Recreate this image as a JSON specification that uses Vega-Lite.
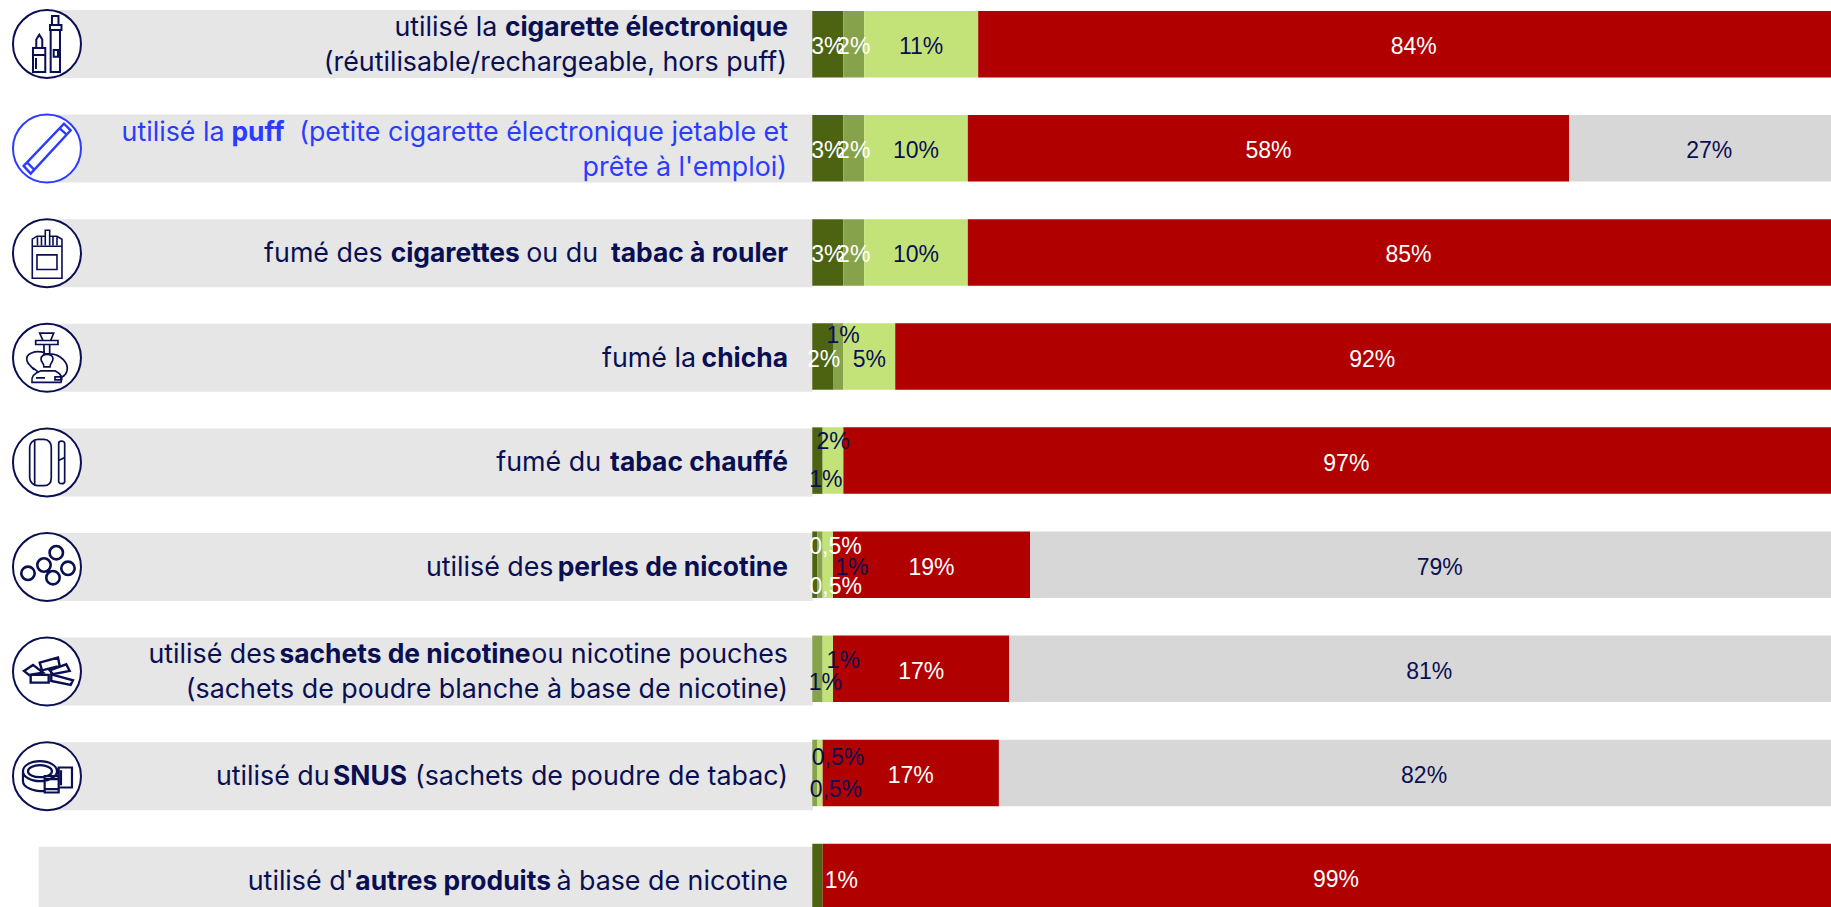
{
"$schema":"https://vega.github.io/schema/vega-lite/v6.json",
"width":1831,"height":907,"autosize":"none","padding":0,"background":"#ffffff",
"config":{"view":{"stroke":null},"style":{
 "v":{"font":"Liberation Sans","fontSize":23,"align":"center","baseline":"middle"},
 "r":{"font":"Inter","fontSize":26.8,"fontWeight":400,"align":"right","baseline":"middle","color":"#0a0f52"},
 "b":{"font":"Inter","fontSize":26.4,"fontWeight":700,"align":"right","baseline":"middle","color":"#0a0f52"},
 "rp":{"font":"Inter","fontSize":26.8,"fontWeight":400,"align":"right","baseline":"middle","color":"#2b3cff"},
 "bp":{"font":"Inter","fontSize":26.4,"fontWeight":700,"align":"right","baseline":"middle","color":"#2b3cff"}
}},
"datasets":{
"items":[{"item":"ecig","icon":"vape"},{"item":"puff","icon":"puff"},{"item":"cig","icon":"pack"},{"item":"chicha","icon":"shisha"},{"item":"chauffe","icon":"heat"},{"item":"perles","icon":"pearls"},{"item":"sachets","icon":"pouches"},{"item":"snus","icon":"snus"},{"item":"autres","icon":"none"}],
"runs":[
{"id":"r1a","item":"ecig","text":"utilisé la"},{"id":"r1b","item":"ecig","text":"cigarette électronique"},{"id":"r1c","item":"ecig","text":"(réutilisable/rechargeable, hors puff)"},
{"id":"r2a","item":"puff","text":"utilisé la"},{"id":"r2b","item":"puff","text":"puff"},{"id":"r2c","item":"puff","text":"(petite cigarette électronique jetable et"},{"id":"r2d","item":"puff","text":"prête à l'emploi)"},
{"id":"r3a","item":"cig","text":"fumé des"},{"id":"r3b","item":"cig","text":"cigarettes"},{"id":"r3c","item":"cig","text":"ou du"},{"id":"r3d","item":"cig","text":"tabac à rouler"},
{"id":"r4a","item":"chicha","text":"fumé la"},{"id":"r4b","item":"chicha","text":"chicha"},
{"id":"r5a","item":"chauffe","text":"fumé du"},{"id":"r5b","item":"chauffe","text":"tabac chauffé"},
{"id":"r6a","item":"perles","text":"utilisé des"},{"id":"r6b","item":"perles","text":"perles de nicotine"},
{"id":"r7a","item":"sachets","text":"utilisé des"},{"id":"r7b","item":"sachets","text":"sachets de nicotine"},{"id":"r7c","item":"sachets","text":"ou nicotine pouches"},{"id":"r7d","item":"sachets","text":"(sachets de poudre blanche à base de nicotine)"},
{"id":"r8a","item":"snus","text":"utilisé du"},{"id":"r8b","item":"snus","text":"SNUS"},{"id":"r8c","item":"snus","text":"(sachets de poudre de tabac)"},
{"id":"r9a","item":"autres","text":"utilisé d'"},{"id":"r9b","item":"autres","text":"autres produits"},{"id":"r9c","item":"autres","text":"à base de nicotine"}
],
"bars":[
{"item":"ecig","cat":"dark","value":3,"label":"3%"},{"item":"ecig","cat":"mid","value":2,"label":"2%"},{"item":"ecig","cat":"light","value":11,"label":"11%"},{"item":"ecig","cat":"red","value":84,"label":"84%"},
{"item":"puff","cat":"dark","value":3,"label":"3%"},{"item":"puff","cat":"mid","value":2,"label":"2%"},{"item":"puff","cat":"light","value":10,"label":"10%"},{"item":"puff","cat":"red","value":58,"label":"58%"},{"item":"puff","cat":"gray","value":27,"label":"27%"},
{"item":"cig","cat":"dark","value":3,"label":"3%"},{"item":"cig","cat":"mid","value":2,"label":"2%"},{"item":"cig","cat":"light","value":10,"label":"10%"},{"item":"cig","cat":"red","value":85,"label":"85%"},
{"item":"chicha","cat":"dark","value":2,"label":"2%"},{"item":"chicha","cat":"mid","value":1,"label":"1%"},{"item":"chicha","cat":"light","value":5,"label":"5%"},{"item":"chicha","cat":"red","value":92,"label":"92%"},
{"item":"chauffe","cat":"dark","value":1,"label":"1%"},{"item":"chauffe","cat":"light","value":2,"label":"2%"},{"item":"chauffe","cat":"red","value":97,"label":"97%"},
{"item":"perles","cat":"dark","value":0.5,"label":"0,5%"},{"item":"perles","cat":"mid","value":0.5,"label":"0,5%"},{"item":"perles","cat":"light","value":1,"label":"1%"},{"item":"perles","cat":"red","value":19,"label":"19%"},{"item":"perles","cat":"gray","value":79,"label":"79%"},
{"item":"sachets","cat":"mid","value":1,"label":"1%"},{"item":"sachets","cat":"light","value":1,"label":"1%"},{"item":"sachets","cat":"red","value":17,"label":"17%"},{"item":"sachets","cat":"gray","value":81,"label":"81%"},
{"item":"snus","cat":"mid","value":0.5,"label":"0,5%"},{"item":"snus","cat":"light","value":0.5,"label":"0,5%"},{"item":"snus","cat":"red","value":17,"label":"17%"},{"item":"snus","cat":"gray","value":82,"label":"82%"},
{"item":"autres","cat":"dark","value":1,"label":"1%"},{"item":"autres","cat":"red","value":99,"label":"99%"}
]},
"resolve":{"scale":{"y":"independent"}},
"layer":[
{"encoding":{"y":{"field":"item","type":"nominal","axis":null,"scale":{"domain":["ecig","puff","cig","chicha","chauffe","perles","sachets","snus","autres"],"range":[-8.3,933.1],"paddingInner":0,"paddingOuter":0}}},
 "layer":[
 {"data":{"name":"items"},"mark":{"type":"bar","size":68,"color":"#e6e6e6"},"encoding":{"x":{"datum":-74.6,"type":"quantitative","axis":null,"scale":{"domain":[-78.33,98.24],"nice":false,"zero":false}},"x2":{"datum":0.05}}},
 {"data":{"name":"items"},
  "transform":[{"filter":"datum.icon!='none'"}],
  "encoding":{"x":{"datum":-73.8,"type":"quantitative","axis":null,"scale":{"domain":[-78.33,98.24],"nice":false,"zero":false}}},
  "layer":[
  {"transform":[{"filter":"datum.icon!='puff'"}],"mark":{"type":"point","shape":"circle","size":4624,"fill":"#ffffff","stroke":"#0a0f52","strokeWidth":2,"opacity":1}},
  {"transform":[{"filter":"datum.icon=='puff'"}],"mark":{"type":"point","shape":"circle","size":4624,"fill":"#ffffff","stroke":"#2b3cff","strokeWidth":2,"opacity":1}},
  {"transform":[{"filter":"datum.icon=='vape'"}],"mark":{"type":"point","size":4,"filled":false,"stroke":"#0a0f52","strokeWidth":2,"opacity":1,"shape":"M5,-28H11.5V-19H5ZM3,-19H14.5V-14H3ZM3.7,-14H13V28H3.7ZM6.7,6H11V12.7H6.7ZM-10.7,4V-4.5L-7.7,-9.3L-4.7,-4.5V4ZM-14,4H-1.7V28H-14ZM-14,11H-1.7M-11,14V25"}},
  {"transform":[{"filter":"datum.icon=='puff'"}],"mark":{"type":"point","size":4,"filled":false,"stroke":"#2b3cff","strokeWidth":2.4,"opacity":1,"shape":"M-23.3,17.3L17,-25L23.7,-18.3L-16.3,25ZM12.7,-20.3L19.7,-14M-19.7,14L-13,20.7"}},
  {"transform":[{"filter":"datum.icon=='pack'"}],"mark":{"type":"point","size":4,"filled":false,"stroke":"#0a0f52","strokeWidth":1.6,"opacity":1,"shape":"M-14.7,-7H15V25H-14.7ZM-10,1.7H10V16.3H-10ZM-14.7,-7V-14L-10,-17H-2M3,-17H10L15,-14V-7M-1.7,-8V-23H2.7V-8M-9.5,-16V-8M-5.5,-17V-8M6,-17V-8M10,-16V-8"}},
  {"transform":[{"filter":"datum.icon=='shisha'"}],"mark":{"type":"point","size":4,"filled":false,"stroke":"#0a0f52","strokeWidth":1.7,"opacity":1,"shape":"M-7.3,-24.7H6.7L3.7,-17.3H-4ZM-11.3,-17.3H11V-13.3H-11.3ZM-3,-13.3H2.7V-4H-3ZM-6,1C-6,-5 6,-5 6,1C6,5 3,5 3,9H-3C-3,5 -6,5 -6,1ZM-15,24.5H14C16,20 14,16 8,13H-6C-12,15 -16,19 -15,24.5ZM-11,20H-2M8,19H14V22H8ZM-2,-5C-12,-8 -22,-4 -20,3C-19,7 -15,9 -13,12M-14,10L-9,14M3,-4C14,-4 22,6 20,13C19,18 15,19 14,20"}},
  {"transform":[{"filter":"datum.icon=='heat'"}],"mark":{"type":"point","size":4,"filled":false,"stroke":"#0a0f52","strokeWidth":1.7,"opacity":1,"shape":"M-9,-23H-3C2,-23 4.3,-19 4.3,-15V15C4.3,20 2,23.3 -3,23.3H-9C-14,23.3 -17.3,19 -17.3,15V-15C-17.3,-19 -14,-23 -9,-23ZM-12.3,-22V22M11.7,-19C11.7,-22 17.7,-22 17.7,-19V19C17.7,22 11.7,22 11.7,19ZM11.7,-2L17.7,-5"}},
  {"transform":[{"filter":"datum.icon=='pearls'"}],"mark":{"type":"point","size":4,"filled":false,"stroke":"#0a0f52","strokeWidth":2.6,"opacity":1,"shape":"M2.6,-14.3A6.7,6.7 0 1 0 16,-14.3A6.7,6.7 0 1 0 2.6,-14.3ZM-9.7,-2A6.7,6.7 0 1 0 3.7,-2A6.7,6.7 0 1 0 -9.7,-2ZM-25.7,6.3A6.7,6.7 0 1 0 -12.3,6.3A6.7,6.7 0 1 0 -25.7,6.3ZM14.3,1.3A6.7,6.7 0 1 0 27.7,1.3A6.7,6.7 0 1 0 14.3,1.3ZM-0.7,10.7A6.7,6.7 0 1 0 12.7,10.7A6.7,6.7 0 1 0 -0.7,10.7Z"}},
  {"transform":[{"filter":"datum.icon=='pouches'"}],"mark":{"type":"point","size":4,"filled":false,"stroke":"#0a0f52","strokeWidth":2.4,"opacity":1,"shape":"M-7.3,-9L11,-14L12.7,-5.7L-5,-1.3ZM-23,-0.7L-14,-6.7L-4,1L-18,3.3ZM-16.3,3.3H1.7V11H-16.3ZM2.7,-1.3L19.3,-7.3L22.7,-0.7L6,2.7ZM4.3,2.7L26,8.7L23.7,13.3L4.3,9.3Z"}},
  {"transform":[{"filter":"datum.icon=='snus'"}],"mark":{"type":"point","size":4,"filled":false,"stroke":"#0a0f52","strokeWidth":2.2,"opacity":1,"shape":"M-24,-5A17,10 0 1 0 10,-5A17,10 0 1 0 -24,-5ZM-19,-5A12,6 0 1 0 5,-5A12,6 0 1 0 -19,-5ZM-24,-5V5C-24,11 -14,15 -3,15M-2.3,0H11.7V16.3H-2.3ZM-2.3,3H11.7M-2.3,13H11.7M11.7,-8.7H25V11.3H11.7ZM14,-6V9"}}
  ]},
 {"data":{"name":"runs"},
  "encoding":{"x":{"datum":-2.34,"type":"quantitative","axis":null,"scale":{"domain":[-78.33,98.24],"nice":false,"zero":false}},"text":{"field":"text"}},
  "layer":[
  {"transform":[{"filter":"datum.id=='r1a'"}],"mark":{"type":"text","style":"r","dx":-290.6,"dy":-16}},
  {"transform":[{"filter":"datum.id=='r1b'"}],"mark":{"type":"text","style":"b","dx":0,"dy":-16}},
  {"transform":[{"filter":"datum.id=='r1c'"}],"mark":{"type":"text","style":"r","dx":-1,"dy":19}},
  {"transform":[{"filter":"datum.id=='r2a'"}],"mark":{"type":"text","style":"rp","dx":-563.5,"dy":-16}},
  {"transform":[{"filter":"datum.id=='r2b'"}],"mark":{"type":"text","style":"bp","dx":-503.6,"dy":-16}},
  {"transform":[{"filter":"datum.id=='r2c'"}],"mark":{"type":"text","style":"rp","dx":0,"dy":-16}},
  {"transform":[{"filter":"datum.id=='r2d'"}],"mark":{"type":"text","style":"rp","dx":-1,"dy":19}},
  {"transform":[{"filter":"datum.id=='r3a'"}],"mark":{"type":"text","style":"r","dx":-405.3,"dy":1}},
  {"transform":[{"filter":"datum.id=='r3b'"}],"mark":{"type":"text","style":"b","dx":-268.2,"dy":1}},
  {"transform":[{"filter":"datum.id=='r3c'"}],"mark":{"type":"text","style":"r","dx":-190,"dy":1}},
  {"transform":[{"filter":"datum.id=='r3d'"}],"mark":{"type":"text","style":"b","dx":0,"dy":1}},
  {"transform":[{"filter":"datum.id=='r4a'"}],"mark":{"type":"text","style":"r","dx":-92,"dy":1}},
  {"transform":[{"filter":"datum.id=='r4b'"}],"mark":{"type":"text","style":"b","dx":0,"dy":1}},
  {"transform":[{"filter":"datum.id=='r5a'"}],"mark":{"type":"text","style":"r","dx":-187,"dy":1}},
  {"transform":[{"filter":"datum.id=='r5b'"}],"mark":{"type":"text","style":"b","dx":0,"dy":1}},
  {"transform":[{"filter":"datum.id=='r6a'"}],"mark":{"type":"text","style":"r","dx":-234.5,"dy":1}},
  {"transform":[{"filter":"datum.id=='r6b'"}],"mark":{"type":"text","style":"b","dx":0,"dy":1}},
  {"transform":[{"filter":"datum.id=='r7a'"}],"mark":{"type":"text","style":"r","dx":-512,"dy":-17}},
  {"transform":[{"filter":"datum.id=='r7b'"}],"mark":{"type":"text","style":"b","dx":-257.4,"dy":-17}},
  {"transform":[{"filter":"datum.id=='r7c'"}],"mark":{"type":"text","style":"r","dx":0,"dy":-17}},
  {"transform":[{"filter":"datum.id=='r7d'"}],"mark":{"type":"text","style":"r","dx":0,"dy":18}},
  {"transform":[{"filter":"datum.id=='r8a'"}],"mark":{"type":"text","style":"r","dx":-458.4,"dy":1}},
  {"transform":[{"filter":"datum.id=='r8b'"}],"mark":{"type":"text","style":"b","dx":-381,"dy":1}},
  {"transform":[{"filter":"datum.id=='r8c'"}],"mark":{"type":"text","style":"r","dx":0,"dy":1}},
  {"transform":[{"filter":"datum.id=='r9a'"}],"mark":{"type":"text","style":"r","dx":-434.4,"dy":1}},
  {"transform":[{"filter":"datum.id=='r9b'"}],"mark":{"type":"text","style":"b","dx":-237,"dy":1}},
  {"transform":[{"filter":"datum.id=='r9c'"}],"mark":{"type":"text","style":"r","dx":0,"dy":1}}
  ]}
 ]},
{"data":{"name":"bars"},
 "transform":[
  {"calculate":"indexof(['dark','mid','light','red','gray'],datum.cat)","as":"order"},
  {"stack":"value","groupby":["item"],"sort":[{"field":"order","order":"ascending"}],"as":["x0","x1"]},
  {"calculate":"(datum.x0+datum.x1)/2","as":"mid"},
  {"calculate":"datum.item+'/'+datum.cat","as":"id"}
 ],
 "encoding":{"y":{"field":"item","type":"nominal","axis":null,"scale":{"domain":["ecig","puff","cig","chicha","chauffe","perles","sachets","snus","autres"],"range":[-7.85,929.05],"paddingInner":0,"paddingOuter":0}}},
 "layer":[
 {"mark":{"type":"bar","size":66.5,"clip":true},"encoding":{"x":{"field":"x0","type":"quantitative","axis":null,"scale":{"domain":[-78.33,98.24],"nice":false,"zero":false}},"x2":{"field":"x1"},"color":{"field":"cat","type":"nominal","legend":null,"scale":{"domain":["dark","mid","light","red","gray"],"range":["#4c6412","#86a34b","#c3e379","#b00000","#d7d7d7"]}}}},
 {"encoding":{"x":{"field":"mid","type":"quantitative","axis":null,"scale":{"domain":[-78.33,98.24],"nice":false,"zero":false}},"text":{"field":"label"}},
  "layer":[
  {"transform":[{"filter":"indexof(['chicha/dark','chicha/mid','chauffe/light','chauffe/dark','perles/dark','perles/mid','perles/light','sachets/light','sachets/mid','snus/light','snus/mid','autres/dark'],datum.id)<0"}],"mark":{"type":"text","style":"v","dy":3},"encoding":{"color":{"condition":{"test":"indexof(['dark','mid','red'],datum.cat)>=0","value":"#ffffff"},"value":"#0a0f52"}}},
  {"transform":[{"filter":"datum.id=='chicha/dark'"}],"mark":{"type":"text","style":"v","dx":1,"dy":3,"color":"#ffffff"}},
  {"transform":[{"filter":"datum.id=='chicha/mid'"}],"mark":{"type":"text","style":"v","dx":5,"dy":-21,"color":"#0a0f52"}},
  {"transform":[{"filter":"datum.id=='chauffe/light'"}],"mark":{"type":"text","style":"v","dx":0,"dy":-18.6,"color":"#0a0f52"}},
  {"transform":[{"filter":"datum.id=='chauffe/dark'"}],"mark":{"type":"text","style":"v","dx":8.5,"dy":19,"color":"#0a0f52"}},
  {"transform":[{"filter":"datum.id=='perles/dark'"}],"mark":{"type":"text","style":"v","dx":20.6,"dy":-17.3,"color":"#ffffff"}},
  {"transform":[{"filter":"datum.id=='perles/mid'"}],"mark":{"type":"text","style":"v","dx":15.7,"dy":22.7,"color":"#ffffff"}},
  {"transform":[{"filter":"datum.id=='perles/light'"}],"mark":{"type":"text","style":"v","dx":24,"dy":3,"color":"#0a0f52"}},
  {"transform":[{"filter":"datum.id=='sachets/light'"}],"mark":{"type":"text","style":"v","dx":15.4,"dy":-7.6,"color":"#0a0f52"}},
  {"transform":[{"filter":"datum.id=='sachets/mid'"}],"mark":{"type":"text","style":"v","dx":8,"dy":14.4,"color":"#0a0f52"}},
  {"transform":[{"filter":"datum.id=='snus/light'"}],"mark":{"type":"text","style":"v","dx":18,"dy":-15,"color":"#0a0f52"}},
  {"transform":[{"filter":"datum.id=='snus/mid'"}],"mark":{"type":"text","style":"v","dx":21,"dy":17,"color":"#0a0f52"}},
  {"transform":[{"filter":"datum.id=='autres/dark'"}],"mark":{"type":"text","style":"v","dx":24,"dy":4,"color":"#ffffff"}}
  ]}
 ]}
]
}
